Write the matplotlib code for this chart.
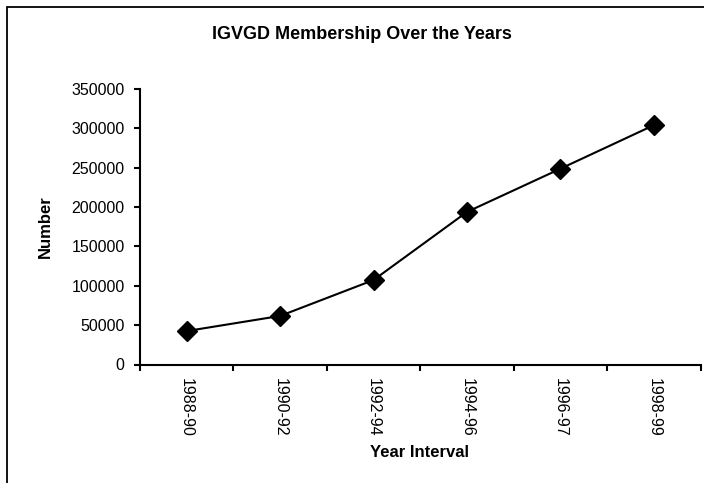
import matplotlib.pyplot as plt
from matplotlib.patches import Rectangle

plt.rcParams['font.family'] = ['Liberation Sans', 'DejaVu Sans']

intervals = ['1988-90', '1990-92', '1992-94', '1994-96', '1996-97', '1998-99']
members = [42500, 61700, 107300, 193800, 248700, 304000]
yticks = [0, 50000, 100000, 150000, 200000, 250000, 300000, 350000]

W, H = 704, 483
fig = plt.figure(figsize=(W / 100, H / 100), dpi=100)
ax = fig.add_axes([140 / W, 1 - 364.5 / H, (700.5 - 140) / W, (364.5 - 89) / H])

x = range(len(intervals))
ax.plot(x, members, color='black', lw=1.5, marker='D', markersize=10,
        markerfacecolor='black', markeredgecolor='black')

ax.set_xlim(-0.5, len(intervals) - 0.5)
ax.set_ylim(0, 350000)
ax.set_yticks(yticks)
ax.set_yticklabels([str(v) for v in yticks], fontsize=11.5)
# category boundaries carry the tick marks, labels sit in the middle
ax.set_xticks([i - 0.5 for i in range(len(intervals) + 1)])
ax.set_xticklabels([])
ax.set_xticks(list(x), minor=True)
ax.set_xticklabels(intervals, minor=True, rotation=-90, fontsize=11.5)
ax.tick_params(axis='x', which='minor', length=0, pad=10)
ax.tick_params(axis='y', which='major', pad=7)
ax.tick_params(axis='both', which='major', length=4, width=1.5, direction='out')
for s in ['top', 'right']:
    ax.spines[s].set_visible(False)
for s in ['left', 'bottom']:
    ax.spines[s].set_linewidth(1.5)

ax.set_xlabel('Year Interval', fontsize=12, fontweight='bold')
ax.xaxis.set_label_coords(420 / W, 1 - 445 / H, transform=fig.transFigure)
ax.set_ylabel('Number', fontsize=12, fontweight='bold')
ax.yaxis.set_label_coords(53 / W, 1 - 227 / H, transform=fig.transFigure)
fig.text(362 / W, 1 - 34.5 / H, 'IGVGD Membership Over the Years',
         ha='center', va='center', fontsize=13, fontweight='bold')

fig.patches.append(Rectangle((7 / W, -0.1), 1.0, 1 - 7 / H + 0.1, transform=fig.transFigure,
                             fill=False, edgecolor='black', lw=1.3))

fig.savefig('out.png', dpi=100)
